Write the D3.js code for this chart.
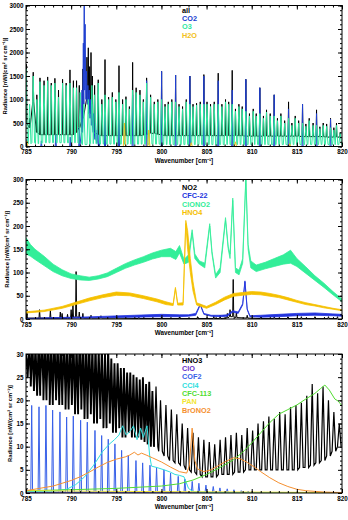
<!DOCTYPE html>
<html>
<head>
<meta charset="utf-8">
<script src="https://cdn.jsdelivr.net/npm/d3@7"></script>
<style>
  body { margin: 0; background: #fff; }
  text { font-family: "Liberation Sans", Arial, sans-serif; font-weight: bold; }
</style>
</head>
<body>
<script>
// ---- data ----
const xTicks = [785, 790, 795, 800, 805, 810, 815, 820];
const yTicks1 = [0, 500, 1000, 1500, 2000, 2500, 3000];
const yTicks2 = [0, 50, 100, 150, 200, 250, 300];
const yTicks3 = [0, 5, 10, 15, 20, 25, 30];

const legend1 = ['all', 'CO2', 'O3', 'H2O'];
const legend2 = ['NO2', 'CFC-22', 'ClONO2', 'HNO4'];
const legend3 = ['HNO3', 'ClO', 'COF2', 'CCl4', 'CFC-113', 'PAN', 'BrONO2'];

// spike lists: [wavenumber, peak, floor]
const allSpec = [
  [785.05,1750,500],[785.4,600,400],[785.8,1580,950],[786.2,1100,300],[786.55,1460,250],[787.0,1400,250],
  [787.4,1480,250],[787.8,1350,250],[788.2,1450,250],[788.6,1200,250],[789.05,1430,250],[789.45,1350,250],
  [789.87,1630,250],[790.25,1400,250],[790.6,1400,300],[790.9,1300,400],[791.3,1650,600],[791.75,1900,1000],
  [791.9,2100,900],[792.05,1700,800],[792.2,2000,700],[792.35,1500,500],[792.6,1300,300],[793.0,1420,250],
  [793.4,1000,230],[793.75,1850,230],
  [794.15,1050,230],[794.56,1150,230],[794.95,1000,230],[795.3,1720,230],[795.7,1000,230],[796.07,1060,230],
  [796.45,850,230],[796.81,1790,230],[797.2,1250,230],[797.62,1200,230],[798.0,1000,240],[798.36,1460,260],
  [798.8,1100,280],[799.21,950,280],[799.6,1000,260],[800.02,1600,250],[800.4,900,230],[800.76,950,230],
  [801.15,1000,230],[801.57,1520,230],[801.95,900,230],[802.34,850,230],[802.75,1000,230],[803.15,1500,230],
  [803.5,900,230],[803.89,920,230],[804.3,950,230],[804.7,1530,230],[805.05,950,230],[805.44,900,230],
  [805.85,950,230],[806.29,1560,230],[806.7,900,230],[807.1,1000,230],[807.45,950,230],[807.84,1620,230],
  [808.2,800,230],[808.58,900,230],[808.95,850,230],[809.35,1430,220],[809.75,700,220],[810.17,800,220],
  [810.5,700,220],[810.9,1250,220],[811.3,650,220],[811.64,780,220],[812.05,700,220],[812.49,1100,220],
  [812.85,600,220],[813.23,700,220],[813.65,550,220],[814.08,950,220],[814.45,500,220],[814.82,650,220],
  [815.2,550,220],[815.63,900,210],[816.0,480,210],[816.37,600,210],[816.8,500,210],[817.18,780,210],
  [817.55,420,210],[817.92,500,210],[818.3,480,200],[818.73,600,200],[819.1,400,200],[819.39,500,200],
  [819.8,300,200]
];
const co2Spec = [
  [785.1,150,0],[786.7,120,0],[788.3,250,0],[789.9,200,0],[790.9,400,0],[791.2,1200,300],[791.35,2200,900],
  [791.45,3300,1300],[791.55,2600,1200],[791.7,1600,1000],[791.85,1300,900],[792.0,1200,700],[792.15,1000,600],
  [792.3,900,450],[792.5,700,300],[792.7,500,150],[792.9,350,80],[793.1,250,0],[793.75,700,0],
  [795.3,900,0],[796.81,1100,0],[798.36,1400,0],[800.02,1600,0],[801.57,1520,0],[803.15,1500,0],
  [804.7,1500,0],[806.29,1400,0],[807.84,1200,0],[809.35,1430,0],[810.9,1250,0],[812.49,1100,0],
  [814.08,800,0],[815.63,900,0],[817.18,700,0],[818.73,580,0]
];
const o3Spec = [
  [785.0,1650,80],[785.4,900,60],[785.8,1500,80],[786.2,1000,60],[786.55,1380,60],[787.0,1300,80],
  [787.4,1400,80],[787.8,1300,80],[788.2,1350,80],[788.6,1050,80],[789.05,1350,80],[789.45,1300,80],
  [789.87,1350,80],[790.25,1250,80],[790.6,1250,80],[791.0,1150,60],[791.4,900,40],[791.9,1000,40],
  [792.3,1300,60],[792.6,1100,60],[793.0,1350,60],[793.4,900,50],[793.75,1100,50],[794.15,1000,50],
  [794.56,1050,50],[794.95,950,50],[795.3,1150,50],[795.7,900,50],[796.07,1000,50],[796.45,800,50],
  [796.81,1200,50],[797.2,1150,50],[797.62,1100,50],[798.0,950,50],[798.36,1350,50],[798.8,1050,50],
  [799.21,900,50],[799.6,950,50],[800.02,1000,50],[800.4,850,40],[800.76,900,40],[801.15,950,40],
  [801.57,950,40],[801.95,850,40],[802.34,800,40],[802.75,950,40],[803.15,900,40],[803.5,850,40],
  [803.89,880,40],[804.3,900,40],[804.7,900,40],[805.05,900,40],[805.44,850,40],[805.85,900,40],
  [806.29,900,40],[806.7,850,40],[807.1,950,40],[807.45,900,40],[807.84,900,40],[808.2,750,40],
  [808.58,850,40],[808.95,800,40],[809.35,750,40],[809.75,650,40],[810.17,750,40],[810.5,650,40],
  [810.9,700,40],[811.3,600,40],[811.64,730,40],[812.05,650,40],[812.49,650,40],[812.85,550,40],
  [813.23,650,40],[813.65,500,40],[814.08,600,40],[814.45,450,40],[814.82,600,40],[815.2,500,40],
  [815.63,500,40],[816.0,430,40],[816.37,550,40],[816.8,450,40],[817.18,450,40],[817.55,380,40],
  [817.92,450,40],[818.3,430,40],[818.73,400,40],[819.1,350,40],[819.39,450,40],[819.8,280,40]
];
const h2oSpec = [[785.1,120,0],[795.9,500,0],[798.6,350,0],[803.3,80,0],[808.2,100,0],[814.2,60,0],[819.9,0,0]];

const no2Spec = [
  [785.1,15,2],[786.5,20,2],[787.7,18,2],[788.8,15,2],[789.0,12,2],[789.6,10,2],[790.0,20,3],[790.2,30,3],
  [790.55,102,5],[790.9,15,3],[791.3,12,2],[792.2,8,2],[793.3,7,2],[795.0,5,2],[797.5,4,1],[800.0,4,1],
  [802.0,5,1],[804.0,5,1],[805.8,7,1],[806.5,8,1],[807.3,12,2],[807.6,20,5],[807.95,85,5],[808.3,15,3],
  [809.5,8,2],[811.0,5,1],[812.5,6,1],[814.0,5,1],[815.5,5,1],[817.0,5,1],[818.5,5,1],[819.5,5,1]
];
// bands: [wavenumber, low, high]
const cfc22Band = [
  [785,0,1],[788,1,3],[791,2,4],[794,3,6],[797,4,8],[800,5,10],[802,5,9],[803,6,9],[803.8,8,12],
  [804.3,30,32],[804.7,10,12],[805.5,6,8],[806.5,5,8],[807.3,6,9],[807.9,15,18],[808.5,12,15],
  [809.0,30,33],[809.25,80,82],[809.5,20,22],[809.8,5,7],[811,4,8],[813,5,10],[815,7,12],[817,8,13],
  [819,7,11],[820,6,10]
];
const clono2Band = [
  [785,140,175],[785.5,135,160],[786,128,150],[787,115,135],[788,102,118],[789,93,106],[790,87,97],
  [791,84,93],[792,83,90],[793,86,93],[794,91,99],[795,100,109],[796,109,119],[797,116,127],[798,122,134],
  [799,129,142],[800,134,148],[801,134,152],[801.6,128,145],[802.0,142,158],[802.5,118,128],[803.0,122,138],
  [803.4,185,192],[803.7,130,140],[804.2,118,125],[804.8,110,120],[805.35,200,205],[805.6,140,145],
  [806,88,95],[806.5,100,110],[807.1,212,218],[807.4,150,155],[807.6,130,140],[807.9,255,260],
  [808.2,100,110],[808.6,95,105],[809.0,120,130],[809.35,300,305],[809.6,150,160],[809.9,110,125],
  [810.5,102,116],[811.5,108,122],[812.5,113,130],[813.5,118,138],[814.3,120,148],[815,113,130],
  [816,98,112],[817,83,93],[818,68,77],[819,52,59],[820,37,43]
];
const hno4Band = [
  [785,13,15.5],[787,16,19],[789,23,27],[790.5,31,36],[792,39,45],[793.5,46,52],[795,51,58],[796.5,50,56],
  [798,44,50],[799.5,37,43],[800.5,31,37],[801.3,29,33],[801.55,65,68],[801.8,30,34],[802.4,30,35],
  [802.7,205,212],[802.9,150,190],[803.2,100,130],[803.5,60,80],[803.9,30,35],[805,23,27],[806,31,36],
  [807,41,47],[808,49,55],[809,51,57],[810,53,59],[811,52,58],[812,49,55],[813,46,51],[814,41,46],
  [815,36,40],[816,31,35],[817,28,31],[818,24,27],[819,21,23],[820,18,20]
];

const hno3Left = [
  [785.0,30,26],[785.35,32,25],[785.7,33,23],[786.05,32,22],[786.4,33,21],[786.75,34,23],[787.1,33,20],
  [787.45,34,22],[787.8,33,19],[788.15,34,21],[788.5,33,20],[788.85,34,19],[789.2,33,21],[789.55,34,18],
  [789.9,33,20],[790.25,34,19],[790.6,33,17],[790.95,34,20],[791.3,33,18],[791.65,34,16],[792.0,33,19],
  [792.35,32,17],[792.7,33,15],[793.05,31,18],[793.4,32,16],[793.75,30,14],[794.1,31,17],[794.45,29,15],
  [794.8,28,13],[795.15,28,16],[795.5,27,14],[795.85,27,12],[796.2,26,15],[796.55,26,13],[796.9,25.5,12],
  [797.25,25,13],[797.6,24.5,12],[797.95,25,11.5],[798.3,23.5,11],[798.65,24,10.5],[799.0,22,10]
];
const hno3Right = [
  [799.4,23,10],[799.9,20,9],[800.5,19,8],[801.1,18,7],
  [801.7,17,6.5],[802.3,15,6],[802.9,14,5],[803.5,13,4.5],[804.1,12,4],[804.7,11.5,3.5],[805.3,11,3.5],
  [805.9,10.5,3.5],[806.5,11.5,4],[807.1,12,4],[807.7,12.5,4],[808.3,13,4.5],[808.9,12.5,4.5],
  [809.5,14,5],[810.1,13.5,5],[810.7,15,5],[811.3,15.5,5],[811.9,16.5,5],[812.5,16,5],[813.1,17.5,5],
  [813.7,17,5],[814.3,18.5,5],[814.9,19,5],[815.5,19.5,5.5],[816.1,21,5.5],[816.7,23.5,6],[817.3,21.5,6.5],
  [817.9,23,7],[818.5,20,8],[819.1,17.5,9],[819.7,15,10]
];
const cloLine = [[785,0.05],[820,0.05]];
const cof2Spec = [
  [785.63,18.9,0.2],[786.44,18.6,0.2],[787.21,18.9,0.2],[787.95,17.9,0.2],[788.76,17.5,0.2],[789.5,16.4,0.2],
  [790.24,16.6,0.2],[791.05,15.7,0.2],[791.79,15.3,0.2],[792.64,13.5,0.2],[793.38,12.4,0.2],[794.11,11.6,0.2],
  [794.85,10.6,0.2],[795.59,9.2,0.2],[796.33,8.1,0.2],[797.18,7.0,0.2],[797.92,6.5,0.2],[798.73,6.0,0.2],
  [799.46,5.5,0.2],[800.28,5.0,0.2],[801.01,4.3,0.2],[801.86,3.6,0.2],[802.6,3.0,0.1],[803.41,2.5,0.1],
  [804.15,2.1,0.1],[804.93,1.7,0.1],[805.74,1.4,0.1],[806.48,1.1,0.1],[807.29,0.9,0.1],[808.03,0.7,0.1],
  [808.84,0.5,0.1],[809.61,0.4,0.1],[820,0.1,0.1]
];
const ccl4Line = [
  [785,0.3],[788,0.4],[789.5,0.8],[790.5,1.8],[791.5,3.5],[792.5,6],[793.5,9],[794.2,10.5],[794.8,11.5],
  [795.3,12.5],[795.7,14.5],[796.1,12.5],[796.6,13.5],[796.9,14.5],[797.3,11.5],[797.7,14],[798.0,12],
  [798.4,14.5],[798.7,8],[798.9,5.8],[799.5,5.5],[800.3,5],[801,4.5],[801.5,4],[802,3.8],[802.5,3.5],
  [803,1],[803.5,0.3],[806,0.1],[820,0.1]
];
const cfc113Line = [
  [785,0.5],[790,0.7],[795,1.0],[800,1.5],[802,2.0],[803.5,2.8],[805,4.0],[806.5,5.5],[808,7.2],[809,8.8],
  [810,10.8],[811,13.0],[812,15.2],[813,17.0],[814,18.0],[815,19.0],[816,20.3],[817,21.5],[817.6,22.5],
  [818.1,23.3],[818.6,22.2],[819.2,20.3],[819.6,19.8],[820,18.8]
];
const panLine = [[785,0.5],[795,0.35],[805,0.25],[820,0.1]];
const brono2Line = [
  [785,0.5],[786.5,1.0],[788,1.5],[789,2.1],[790,2.7],[791,3.5],[792,4.5],[793,5.6],[794,6.6],[795,7.3],
  [796,7.8],[796.5,8.2],[797,8.8],[797.4,8.2],[797.8,8.6],[798.3,8.2],[799,7.6],[800,6.7],[801,5.6],
  [802,4.6],[802.8,4.3],[803.1,6],[803.4,14],[803.7,7],[804,5.2],[804.7,4.6],[805.5,5.0],[806.3,5.9],
  [807.2,6.9],[808,7.6],[808.7,7.4],[809.5,6.6],[810.3,5.6],[811,4.6],[812,3.3],[813,2.2],[814,1.4],
  [815,0.8],[816,0.5],[818,0.2],[820,0.1]
];

// ---- drawing ----
const width = 348, height = 520;
const left = 26, right = 342;
const svg = d3.select('body').append('svg')
  .attr('width', width).attr('height', height);

const x = d3.scaleLinear().domain([785, 820]).range([left, right]);

const spikes = (arr, hw) => arr.flatMap(d => [[d[0] - hw, d[2]], [d[0], d[1]], [d[0] + hw, d[2]]]);

const panels = [
  { top: 5.5, bottom: 146.5, yMax: 3000, yTicks: yTicks1, minor: 100, titleX: 5, legendY: 10,
    legend: legend1, colors: ['#000', '#2040d0', '#30e8a0', '#f2c020'],
    series: [
      { type: 'spike', data: allSpec, hw: 0.05, color: '#000' },
      { type: 'spike', data: co2Spec, hw: 0.06, color: '#2040d0' },
      { type: 'spike', data: o3Spec, hw: 0.15, color: '#30e8a0' },
      { type: 'spike', data: h2oSpec, hw: 0.12, color: '#f2c020' }
    ] },
  { top: 179.5, bottom: 319, yMax: 300, yTicks: yTicks2, minor: 10, titleX: 7, legendY: 187.5,
    legend: legend2, colors: ['#000', '#2233dd', '#33ee99', '#f5c000'],
    series: [
      { type: 'spike', data: no2Spec, hw: 0.06, color: '#000' },
      { type: 'band', data: cfc22Band, color: '#2233dd' },
      { type: 'band', data: clono2Band, color: '#33ee99' },
      { type: 'band', data: hno4Band, color: '#f5c000' }
    ] },
  { top: 354, bottom: 493, yMax: 30, yTicks: yTicks3, minor: 1, titleX: 10, legendY: 360,
    legend: legend3, colors: ['#000', '#6a30c8', '#3860e8', '#30dede', '#50dd30', '#f2e530', '#f59030'],
    series: [
      { type: 'spike', data: hno3Left, hw: 0.17, color: '#000', width: 1.9 },
      { type: 'spike', data: hno3Right, hw: 0.2, color: '#000', width: 1.2 },
      { type: 'line', data: cloLine, color: '#6a30c8' },
      { type: 'spike', data: cof2Spec, hw: 0.1, color: '#3860e8' },
      { type: 'line', data: ccl4Line, color: '#30dede' },
      { type: 'line', data: cfc113Line, color: '#50dd30' },
      { type: 'line', data: panLine, color: '#f2e530' },
      { type: 'line', data: brono2Line, color: '#f59030' }
    ] }
];

panels.forEach((p, i) => {
  const y = d3.scaleLinear().domain([0, p.yMax]).range([p.bottom, p.top]);
  const g = svg.append('g');

  svg.append('clipPath').attr('id', 'clip' + i)
    .append('rect').attr('x', left).attr('y', p.top)
    .attr('width', right - left).attr('height', p.bottom - p.top);

  const plot = g.append('g').attr('clip-path', `url(#clip${i})`);
  const line = d3.line().x(d => x(d[0])).y(d => y(d[1]));
  const area = d3.area().x(d => x(d[0])).y0(d => y(d[1])).y1(d => y(d[2]));

  p.series.forEach(s => {
    if (s.type === 'spike') {
      plot.append('path').attr('d', line(spikes(s.data, s.hw)))
        .attr('fill', 'none').attr('stroke', s.color).attr('stroke-width', s.width || 1);
    } else if (s.type === 'band') {
      plot.append('path').attr('d', area(s.data))
        .attr('fill', s.color).attr('stroke', s.color).attr('stroke-width', 0.8);
    } else {
      plot.append('path').attr('d', line(s.data))
        .attr('fill', 'none').attr('stroke', s.color).attr('stroke-width', 1);
    }
  });

  // axes, ticks pointing inwards on all four sides
  const noLabel = () => '';
  const xMinor = d3.range(785, 821, 1);
  const yMinor = d3.range(0, p.yMax + p.minor / 2, p.minor);
  const put = (axis, tr) => {
    const a = g.append('g').attr('transform', tr).call(axis);
    a.select('.domain').remove();
    a.selectAll('line').attr('stroke', '#000');
    return a;
  };
  const bx = put(d3.axisBottom(x).tickValues(xTicks).tickSize(-4).tickPadding(3.5).tickFormat(d3.format('d')), `translate(0,${p.bottom})`);
  put(d3.axisBottom(x).tickValues(xMinor).tickSize(-2).tickFormat(noLabel), `translate(0,${p.bottom})`);
  put(d3.axisTop(x).tickValues(xTicks).tickSize(-4).tickFormat(noLabel), `translate(0,${p.top})`);
  put(d3.axisTop(x).tickValues(xMinor).tickSize(-2).tickFormat(noLabel), `translate(0,${p.top})`);
  const ly = put(d3.axisLeft(y).tickValues(p.yTicks).tickSize(-4).tickPadding(2.5).tickFormat(d3.format('d')), `translate(${left},0)`);
  put(d3.axisLeft(y).tickValues(yMinor).tickSize(-2).tickFormat(noLabel), `translate(${left},0)`);
  put(d3.axisRight(y).tickValues(p.yTicks).tickSize(-4).tickFormat(noLabel), `translate(${right},0)`);
  put(d3.axisRight(y).tickValues(yMinor).tickSize(-2).tickFormat(noLabel), `translate(${right},0)`);
  bx.selectAll('text').attr('font-size', 6.3).attr('fill', '#000');
  ly.selectAll('text').attr('font-size', 6.3).attr('fill', '#000');

  g.append('rect').attr('x', left).attr('y', p.top)
    .attr('width', right - left).attr('height', p.bottom - p.top)
    .attr('fill', 'none').attr('stroke', '#000').attr('stroke-width', 1);

  // titles
  g.append('text').attr('x', (left + right) / 2).attr('y', p.bottom + 16)
    .attr('text-anchor', 'middle').attr('font-size', 6.3).text('Wavenumber [cm⁻¹]');
  g.append('text')
    .attr('transform', `translate(${p.titleX},${(p.top + p.bottom) / 2}) rotate(-90)`)
    .attr('text-anchor', 'middle').attr('dy', '0.35em').attr('font-size', 5.8)
    .text('Radiance [nW/(cm² sr cm⁻¹)]');

  // legend
  g.selectAll('.leg').data(p.legend).enter().append('text')
    .attr('x', 182).attr('y', (d, j) => p.legendY + j * 8.35)
    .attr('dy', '0.35em').attr('font-size', 7.3)
    .attr('fill', (d, j) => p.colors[j]).text(d => d);
});
</script>
</body>
</html>
